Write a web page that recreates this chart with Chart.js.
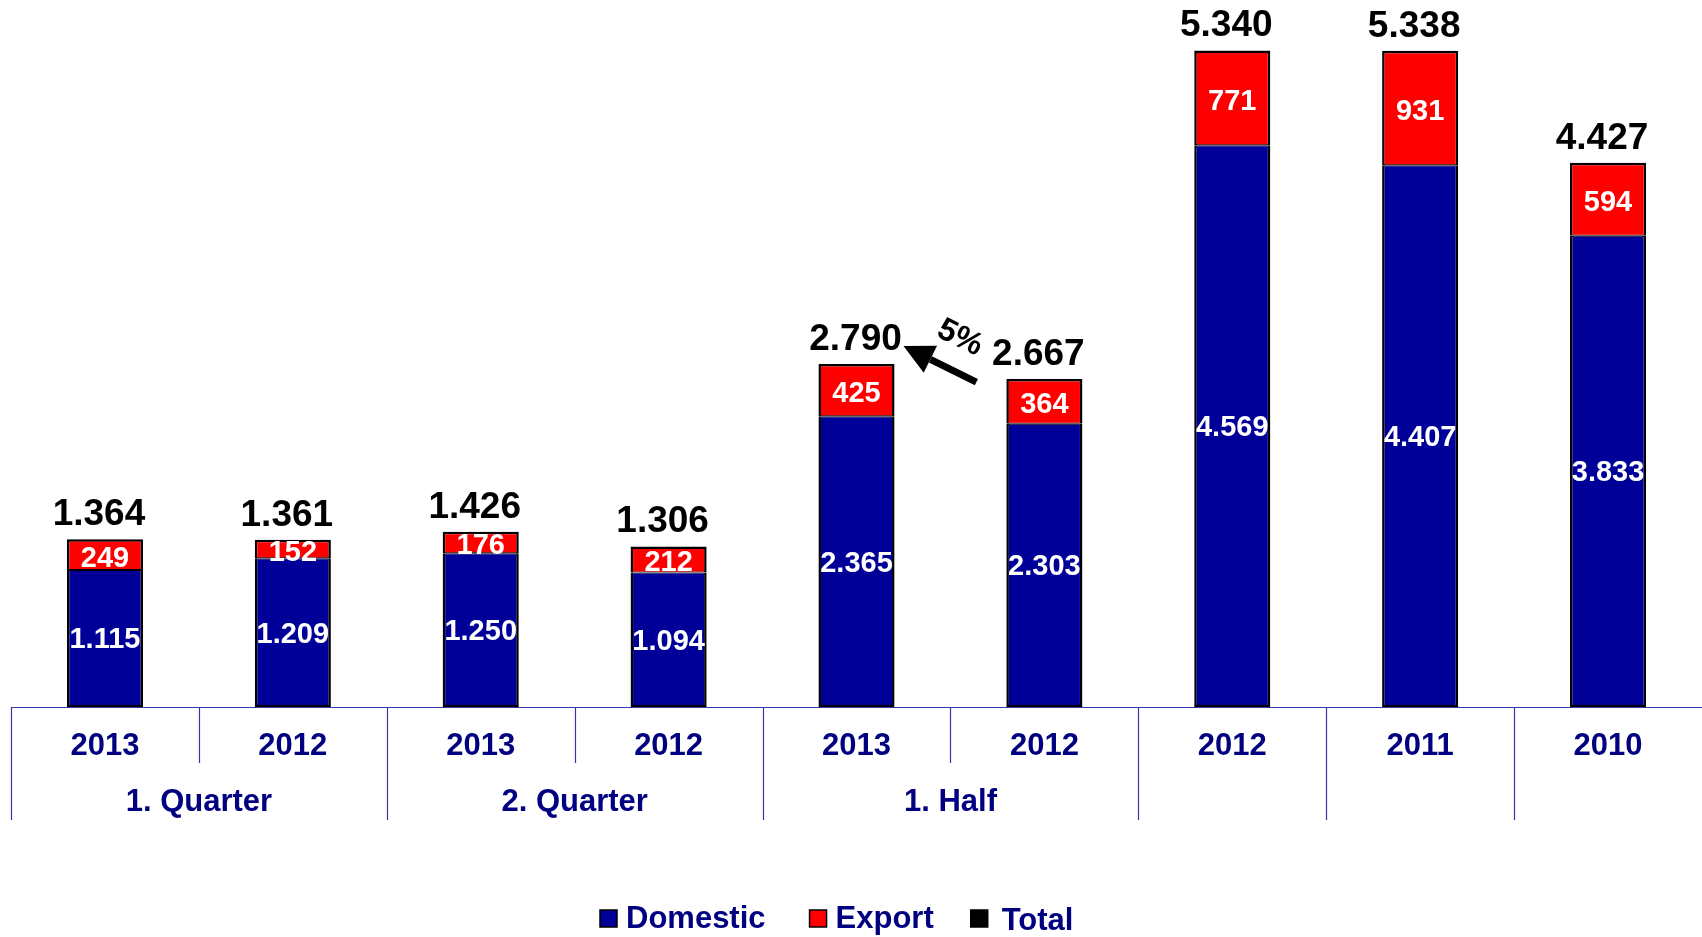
<!DOCTYPE html>
<html>
<head>
<meta charset="utf-8">
<script src="https://cdn.jsdelivr.net/npm/chart.js@4.4.3/dist/chart.umd.min.js"></script>
<style>
  html, body { margin: 0; padding: 0; background: #fff; }
  #wrap { width: 1702px; height: 937px; }
</style>
</head>
<body>
<div id="wrap"><canvas id="salesChart" width="1702" height="937"></canvas></div>
<script>
// valeurs
const years = ["2013", "2012", "2013", "2012", "2013", "2012", "2012", "2011", "2010"];
const periods = ["1. Quarter", "1. Quarter", "2. Quarter", "2. Quarter", "1. Half", "1. Half", "", "", ""];
const domestic = [1115, 1209, 1250, 1094, 2365, 2303, 4569, 4407, 3833];
const exportSales = [249, 152, 176, 212, 425, 364, 771, 931, 594];
const totals = [1364, 1361, 1426, 1306, 2790, 2667, 5340, 5338, 4427];
const growthText = "5%";

const FONT = '"Liberation Sans", Arial, sans-serif';
const NAVY = "#000080";
const LINE = "#3636a8";

// 1234 -> "1.234"
function fmt(n) {
  if (n < 1000) return String(n);
  return Math.floor(n / 1000) + "." + String(n % 1000).padStart(3, "0");
}

const overlay = {
  id: "overlay",
  afterDraw(chart) {
    const c = chart.ctx;
    const x = chart.scales.x;
    const area = chart.chartArea;
    const step = x.getPixelForValue(1) - x.getPixelForValue(0);

    c.save();
    c.textAlign = "center";
    c.textBaseline = "middle";

    // valeurs dans les segments
    c.fillStyle = "#fff";
    c.font = "bold 29px " + FONT;
    [0, 1].forEach((di) => {
      const meta = chart.getDatasetMeta(di);
      meta.data.forEach((bar, i) => {
        const v = chart.data.datasets[di].data[i];
        c.fillText(fmt(v), bar.x, (bar.y + bar.base) / 2 + (di === 1 ? 4 : 2));
      });
    });

    // totaux au-dessus des barres
    c.fillStyle = "#000";
    c.font = "bold 37px " + FONT;
    c.textBaseline = "alphabetic";
    chart.getDatasetMeta(2).data.forEach((pt, i) => {
      c.fillText(fmt(totals[i]), pt.x - (i === 4 ? 1 : 6), pt.y - 14);
    });

    // flèche +5%
    const p4 = chart.getDatasetMeta(2).data[4];
    const p5 = chart.getDatasetMeta(2).data[5];
    const hx = p4.x + 47, hy = p4.y - 18;
    const tx = p5.x - 68, ty = p5.y + 3;
    const ang = Math.atan2(hy - ty, hx - tx);
    const hl = 30, hw = 15;
    const bx = hx - hl * Math.cos(ang), by = hy - hl * Math.sin(ang);
    c.strokeStyle = "#000";
    c.lineWidth = 7;
    c.beginPath();
    c.moveTo(tx, ty);
    c.lineTo(bx, by);
    c.stroke();
    c.beginPath();
    c.moveTo(hx, hy);
    c.lineTo(bx + hw * Math.sin(ang), by - hw * Math.cos(ang));
    c.lineTo(bx - hw * Math.sin(ang), by + hw * Math.cos(ang));
    c.closePath();
    c.fill();
    c.save();
    c.translate((hx + tx) / 2 + 20, (hy + ty) / 2 - 26);
    c.rotate(ang + Math.PI);
    c.font = "bold 32px " + FONT;
    c.textBaseline = "middle";
    c.fillText(growthText, 0, 0);
    c.restore();

    // axe et séparateurs
    const y0 = area.bottom;
    c.strokeStyle = LINE;
    c.lineWidth = 1.2;
    c.beginPath();
    c.moveTo(area.left, y0 + 0.5);
    c.lineTo(area.right, y0 + 0.5);
    for (let k = 0; k < years.length; k++) {
      const bxk = Math.round(x.getPixelForValue(k) - step / 2) + 0.5;
      const sameGroup = k > 0 && periods[k] !== "" && periods[k] === periods[k - 1];
      c.moveTo(bxk, y0);
      c.lineTo(bxk, y0 + (sameGroup ? 56 : 113));
    }
    c.stroke();

    // années
    c.fillStyle = NAVY;
    c.font = "bold 31px " + FONT;
    c.textBaseline = "middle";
    years.forEach((yr, i) => c.fillText(yr, x.getPixelForValue(i), y0 + 39));

    // périodes
    let start = 0;
    for (let i = 1; i <= periods.length; i++) {
      if (i === periods.length || periods[i] !== periods[start]) {
        if (periods[start]) {
          const cx = (x.getPixelForValue(start) + x.getPixelForValue(i - 1)) / 2;
          c.fillText(periods[start], cx, y0 + 95);
        }
        start = i;
      }
    }

    // légende
    const ly = 918;
    let lx = 600;
    const gaps = [44, 37, 0];
    chart.data.datasets.forEach((ds, i) => {
      c.fillStyle = ds.backgroundColor;
      c.fillRect(lx, ly - 8, 17, 17);
      c.strokeStyle = "#000";
      c.lineWidth = 1.5;
      c.strokeRect(lx, ly - 8, 17, 17);
      c.fillStyle = NAVY;
      c.textAlign = "left";
      c.font = "bold 31px " + FONT;
      const tx0 = lx + 17 + (i === 2 ? 14 : 9);
      c.fillText(ds.label, tx0, ly + 1 + (i === 2 ? 2 : 0));
      lx = tx0 + c.measureText(ds.label).width + gaps[i];
    });

    c.restore();
  },
};

new Chart(document.getElementById("salesChart"), {
  type: "bar",
  data: {
    labels: years,
    datasets: [
      {
        label: "Domestic",
        data: domestic,
        backgroundColor: "#000099",
        borderColor: "#000",
        borderWidth: { top: 1, left: 2.5, right: 2.5, bottom: 2 },
        borderSkipped: false,
      },
      {
        label: "Export",
        data: exportSales,
        backgroundColor: "#ff0000",
        borderColor: "#000",
        borderWidth: { top: 2.5, left: 2.5, right: 2.5, bottom: 1 },
        borderSkipped: false,
      },
      {
        type: "line",
        label: "Total",
        data: totals,
        showLine: false,
        pointRadius: 0,
        backgroundColor: "#000",
        borderColor: "#000",
      },
    ],
  },
  options: {
    responsive: false,
    animation: false,
    devicePixelRatio: 1,
    layout: { padding: { left: 11, right: 0, top: 0, bottom: 230 } },
    datasets: { bar: { categoryPercentage: 1, barPercentage: 0.405 } },
    plugins: {
      legend: { display: false },
      tooltip: { enabled: false },
    },
    scales: {
      x: { stacked: true, display: false },
      y: { stacked: true, display: false, min: 0, max: 5750 },
    },
  },
  plugins: [overlay],
});
</script>
</body>
</html>
